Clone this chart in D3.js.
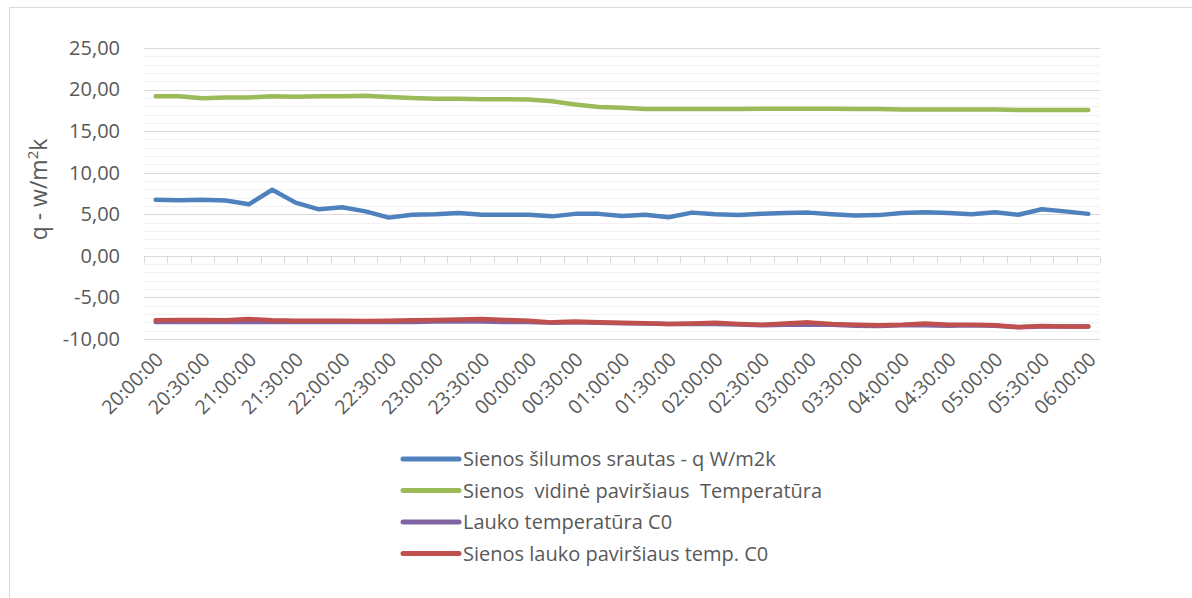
<!DOCTYPE html>
<html>
  <head>
    <meta charset="utf-8">
    <script src="https://d3js.org/d3.v7.min.js"></script>
    <style>
      body { margin: 0; background: #fff; }
      text { font-family: "Open Sans", sans-serif; fill: #595959; white-space: pre; }
    </style>
  </head>
<body>
<script type="text/javascript">
// time stamps every 15 minutes, 20:00 -> 06:00
var times = ["20:00:00","20:15:00","20:30:00","20:45:00","21:00:00","21:15:00","21:30:00","21:45:00",
  "22:00:00","22:15:00","22:30:00","22:45:00","23:00:00","23:15:00","23:30:00","23:45:00",
  "00:00:00","00:15:00","00:30:00","00:45:00","01:00:00","01:15:00","01:30:00","01:45:00",
  "02:00:00","02:15:00","02:30:00","02:45:00","03:00:00","03:15:00","03:30:00","03:45:00",
  "04:00:00","04:15:00","04:30:00","04:45:00","05:00:00","05:15:00","05:30:00","05:45:00","06:00:00"];

var seriesNames = ["Sienos šilumos srautas - q W/m2k",
  "Sienos  vidinė paviršiaus  Temperatūra",
  "Lauko temperatūra C0",
  "Sienos lauko paviršiaus temp. C0"];

var heatFlux = [6.75,6.7,6.75,6.65,6.2,7.95,6.4,5.6,5.85,5.35,4.6,4.95,5.0,5.15,4.95,4.95,4.95,4.75,5.05,5.05,
  4.8,4.95,4.65,5.2,5.0,4.9,5.05,5.15,5.2,5.0,4.85,4.9,5.15,5.25,5.15,5.0,5.25,4.95,5.6,5.35,5.05];
var innerTemp = [19.2,19.2,18.95,19.05,19.05,19.2,19.15,19.2,19.2,19.25,19.1,19.0,18.9,18.9,18.85,18.85,18.8,
  18.6,18.2,17.9,17.8,17.65,17.65,17.65,17.65,17.65,17.7,17.7,17.7,17.7,17.65,17.65,17.6,17.6,17.6,17.6,17.6,
  17.55,17.55,17.55,17.55];
var outdoorTemp = [-7.95,-7.95,-7.95,-7.95,-7.95,-7.95,-7.95,-7.95,-7.95,-7.95,-7.95,-7.95,-7.9,-7.9,-7.9,-7.95,
  -7.95,-8.05,-8.0,-8.05,-8.1,-8.15,-8.2,-8.2,-8.2,-8.25,-8.35,-8.3,-8.25,-8.3,-8.4,-8.45,-8.35,-8.35,-8.4,
  -8.35,-8.4,-8.6,-8.5,-8.5,-8.5];
var outerSurfTemp = [-7.75,-7.7,-7.7,-7.75,-7.6,-7.75,-7.8,-7.8,-7.8,-7.85,-7.8,-7.75,-7.7,-7.65,-7.6,-7.7,
  -7.8,-8.0,-7.9,-8.0,-8.05,-8.1,-8.2,-8.15,-8.05,-8.2,-8.3,-8.15,-8.0,-8.2,-8.3,-8.35,-8.3,-8.15,-8.3,-8.3,
  -8.35,-8.55,-8.45,-8.5,-8.5];

var yTicks = [-10,-5,0,5,10,15,20,25];
var colors = ["#4f81bd","#9bbb59","#8064a2","#c0504d"];
var allSeries = [heatFlux, innerTemp, outdoorTemp, outerSurfTemp];

var W = 1192, H = 598;
var pLeft = 144, pRight = 1100, pTop = 48, pBottom = 339;

var svg = d3.select("body").append("svg")
    .attr("width", W).attr("height", H);

// chart border (Excel chart area)
svg.append("rect")
    .attr("x", 9.5).attr("y", 7.5)
    .attr("width", W + 20).attr("height", H + 20)
    .attr("fill", "none").attr("stroke", "#d9d9d9");

var x = d3.scaleBand().domain(times).range([pLeft, pRight]).padding(0);
var y = d3.scaleLinear().domain([-10, 25]).range([pBottom, pTop]);
var cx = function (t) { return x(t) + x.bandwidth() / 2; };

var fmt = d3.formatLocale({decimal: ",", thousands: " ", grouping: [3], currency: ["", ""], minus: "-"}).format(".2f");

// minor gridlines
svg.append("g").selectAll("line")
    .data(d3.range(-10, 26, 1).filter(function (v) { return v % 5 !== 0; }))
    .enter().append("line")
    .attr("x1", pLeft).attr("x2", pRight)
    .attr("y1", function (d) { return Math.round(y(d)) + 0.5; })
    .attr("y2", function (d) { return Math.round(y(d)) + 0.5; })
    .attr("stroke", "#f2f2f2").attr("stroke-width", 1);

// major gridlines
svg.append("g").selectAll("line")
    .data(yTicks)
    .enter().append("line")
    .attr("x1", pLeft).attr("x2", pRight)
    .attr("y1", function (d) { return Math.round(y(d)) + 0.5; })
    .attr("y2", function (d) { return Math.round(y(d)) + 0.5; })
    .attr("stroke", "#d9d9d9").attr("stroke-width", 1);

// category axis drawn on the zero line
var y0 = Math.round(y(0)) + 0.5;
var zero = svg.append("g");
zero.append("line")
    .attr("x1", pLeft).attr("x2", pRight)
    .attr("y1", y0).attr("y2", y0)
    .attr("stroke", "#d9d9d9");
zero.selectAll("line.tick")
    .data(d3.range(times.length + 1))
    .enter().append("line")
    .attr("class", "tick")
    .attr("x1", function (i) { return Math.round(pLeft + i * x.bandwidth()) + 0.5; })
    .attr("x2", function (i) { return Math.round(pLeft + i * x.bandwidth()) + 0.5; })
    .attr("y1", y0).attr("y2", y0 + 7)
    .attr("stroke", "#d9d9d9");

// y axis labels
var yAxis = svg.append("g")
    .attr("transform", "translate(" + pLeft + ",0)")
    .call(d3.axisLeft(y).tickValues(yTicks).tickSize(0).tickPadding(24).tickFormat(fmt));
yAxis.select(".domain").remove();
yAxis.selectAll("text")
    .style("font-size", "20px")
    .style("font-family", "'Open Sans', sans-serif")
    .attr("fill", "#595959");

// y axis title
svg.append("text")
    .attr("transform", "translate(47," + ((pTop + pBottom) / 2 - 4) + ") rotate(-90)")
    .attr("text-anchor", "middle")
    .style("font-size", "23px")
    .html("q - w/m<tspan dy='-9' font-size='15px'>2</tspan><tspan dy='9'>k</tspan>");

// x labels every 30 minutes
svg.append("g").selectAll("text")
    .data(times.filter(function (t, i) { return i % 2 === 0; }))
    .enter().append("text")
    .attr("transform", function (t) { return "translate(" + (cx(t) + 4) + "," + (pBottom + 17) + ") rotate(-45)"; })
    .attr("text-anchor", "end")
    .attr("dy", "0.35em")
    .style("font-size", "19.5px")
    .text(function (t) { return t; });

// series lines
var line = d3.line()
    .x(function (d, i) { return cx(times[i]); })
    .y(function (d) { return y(d); });

svg.append("g").selectAll("path")
    .data(allSeries)
    .enter().append("path")
    .attr("d", line)
    .attr("fill", "none")
    .attr("stroke", function (d, i) { return colors[i]; })
    .attr("stroke-width", 4.5)
    .attr("stroke-linejoin", "round")
    .attr("stroke-linecap", "round");

// legend
var legend = svg.append("g").selectAll("g")
    .data(seriesNames)
    .enter().append("g")
    .attr("transform", function (d, i) { return "translate(403," + (459 + i * 31.5) + ")"; });
legend.append("line")
    .attr("x1", 0).attr("x2", 56)
    .attr("stroke", function (d, i) { return colors[i]; })
    .attr("stroke-width", 5)
    .attr("stroke-linecap", "round");
legend.append("text")
    .attr("x", 60).attr("dy", "0.35em")
    .style("font-size", "20px")
    .text(function (d) { return d; });
</script>
</body>
</html>
